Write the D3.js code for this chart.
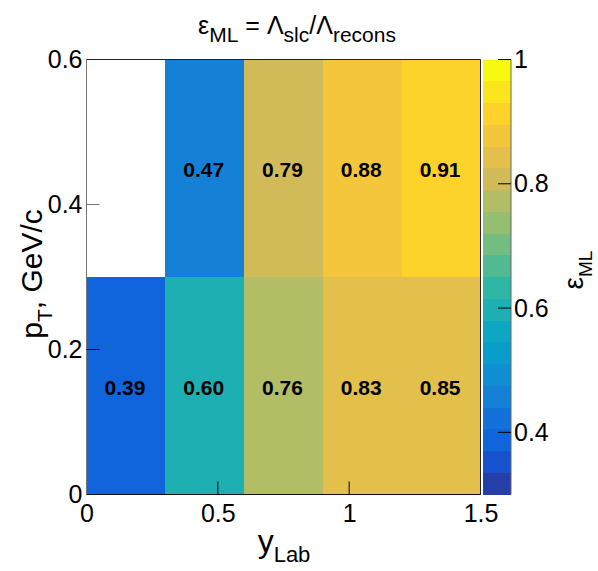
<!DOCTYPE html>
<html>
<head>
<meta charset="utf-8">
<script src="https://cdn.jsdelivr.net/npm/d3@7"></script>
<style>
  html, body { margin: 0; padding: 0; background: #fff; }
  svg { display: block; font-family: "Liberation Sans", Arial, Helvetica, sans-serif; }
</style>
</head>
<body>
<svg id="chart" width="598" height="571"></svg>
<script>
// Bin edges of the 2D efficiency histogram
const yLabEdges = [0, 0.3, 0.6, 0.9, 1.2, 1.5];
const ptEdges = [0, 0.3, 0.6];

// Efficiency per bin: low-pT row (0-0.3) and high-pT row (0.3-0.6); null = empty bin
const effLowPt = [0.39, 0.60, 0.76, 0.83, 0.85];
const effHighPt = [null, 0.47, 0.79, 0.88, 0.91];

// Axis ticks
const xTicks = [0, 0.5, 1, 1.5];
const yTicks = [0, 0.2, 0.4, 0.6];
const zTicks = [0.4, 0.6, 0.8, 1];

// Colour range and number of contour levels
const zMin = 0.3, zMax = 1.0, nLevels = 20;

// Bird palette (stops, RGB) expanded to 255 colours
const birdStops = [0.0, 0.125, 0.25, 0.375, 0.5, 0.625, 0.75, 0.875, 1.0];
const birdR = [0.2082, 0.0592, 0.0780, 0.0232, 0.1802, 0.5301, 0.8186, 0.9956, 0.9764];
const birdG = [0.1664, 0.3599, 0.5041, 0.6419, 0.7178, 0.7492, 0.7328, 0.7862, 0.9832];
const birdB = [0.5293, 0.8684, 0.8385, 0.7914, 0.6425, 0.4662, 0.3499, 0.1968, 0.0539];

const nColors = 255;
const palette = [];
for (let g = 1; g < birdStops.length; g++) {
  const n = Math.floor(nColors * birdStops[g]) - Math.floor(nColors * birdStops[g - 1]);
  for (let c = 0; c < n; c++) {
    const r = birdR[g - 1] + c * (birdR[g] - birdR[g - 1]) / n;
    const gg = birdG[g - 1] + c * (birdG[g] - birdG[g - 1]) / n;
    const b = birdB[g - 1] + c * (birdB[g] - birdB[g - 1]) / n;
    palette.push(d3.rgb(Math.round(r * 255), Math.round(gg * 255), Math.round(b * 255)).formatHex());
  }
}
while (palette.length < nColors) palette.push(palette[palette.length - 1]);

function levelColor(level) {
  const idx = Math.min(nColors - 1, Math.floor((level + 0.99) * nColors / nLevels));
  return palette[idx];
}
function valueColor(v) {
  let level = Math.floor(0.01 + (v - zMin) * nLevels / (zMax - zMin));
  level = Math.max(0, Math.min(nLevels - 1, level));
  return levelColor(level);
}

// Layout
const plot = { left: 86.5, right: 480.5, top: 59.5, bottom: 494.5 };
const bar = { left: 483, right: 511 };
const tickLen = 13;

const svg = d3.select("#chart");

const x = d3.scaleLinear().domain([0, 1.5]).range([plot.left, plot.right]);
const y = d3.scaleLinear().domain([0, 0.6]).range([plot.bottom, plot.top]);
const z = d3.scaleLinear().domain([zMin, zMax]).range([plot.bottom, plot.top]);

// Cells
const cells = [];
[effLowPt, effHighPt].forEach((row, j) => {
  row.forEach((v, i) => {
    if (v !== null) cells.push({ x0: yLabEdges[i], x1: yLabEdges[i + 1], y0: ptEdges[j], y1: ptEdges[j + 1], v });
  });
});

svg.append("g").selectAll("rect").data(cells).join("rect")
  .attr("x", d => x(d.x0))
  .attr("y", d => y(d.y1))
  .attr("width", d => x(d.x1) - x(d.x0))
  .attr("height", d => y(d.y0) - y(d.y1))
  .attr("fill", d => valueColor(d.v))
  .attr("shape-rendering", "crispEdges");

// Value labels
svg.append("g").selectAll("text").data(cells).join("text")
  .attr("x", d => x((d.x0 + d.x1) / 2) - 1)
  .attr("y", d => y((d.y0 + d.y1) / 2) + 1.5)
  .attr("dy", "0.36em")
  .attr("text-anchor", "middle")
  .attr("font-weight", "bold")
  .attr("font-size", 21)
  .attr("fill", "#000")
  .text(d => d.v.toFixed(2));

// Frame
const frame = svg.append("g").attr("fill", "none").attr("stroke-width", 1);
frame.append("line").attr("x1", plot.left).attr("x2", plot.right).attr("y1", plot.top).attr("y2", plot.top).attr("stroke", "#222");
frame.append("line").attr("x1", plot.right).attr("x2", plot.right).attr("y1", plot.top).attr("y2", plot.bottom).attr("stroke", "#222");
frame.append("line").attr("x1", plot.left).attr("x2", plot.left).attr("y1", plot.top).attr("y2", plot.bottom).attr("stroke", "#777");
frame.append("line").attr("x1", plot.left).attr("x2", plot.right).attr("y1", plot.bottom).attr("y2", plot.bottom).attr("stroke", "#111");

// X axis ticks and labels
const xAxis = d3.axisBottom(x).tickValues(xTicks).tickSize(0).tickFormat(d3.format("~g"));
const gx = svg.append("g").attr("transform", `translate(0,${plot.bottom})`).call(xAxis);
gx.select(".domain").remove();
gx.selectAll("text").attr("font-size", 25).attr("fill", "#000").attr("dy", null).attr("y", 27).attr("font-family", "Liberation Sans, Arial, sans-serif");
svg.append("g").selectAll("line").data(xTicks.filter(t => t > 0 && t < 1.5)).join("line")
  .attr("x1", d => x(d)).attr("x2", d => x(d))
  .attr("y1", plot.bottom).attr("y2", plot.bottom - tickLen)
  .attr("stroke", "#000");

// Y axis ticks and labels
const yAxis = d3.axisLeft(y).tickValues(yTicks).tickSize(0).tickPadding(4).tickFormat(d3.format("~g"));
const gy = svg.append("g").attr("transform", `translate(${plot.left},0)`).call(yAxis);
gy.select(".domain").remove();
gy.selectAll("text").attr("font-size", 25).attr("fill", "#000").attr("font-family", "Liberation Sans, Arial, sans-serif");
svg.append("g").selectAll("line").data(yTicks.filter(t => t > 0 && t < 0.6)).join("line")
  .attr("x1", plot.left).attr("x2", plot.left + tickLen)
  .attr("y1", d => y(d)).attr("y2", d => y(d))
  .attr("stroke", d => d >= 0.3 ? "#777" : "#000");

// Colour bar
const levels = d3.range(nLevels);
const dz = (zMax - zMin) / nLevels;
svg.append("g").selectAll("rect").data(levels).join("rect")
  .attr("x", bar.left)
  .attr("width", bar.right - bar.left)
  .attr("y", i => z(zMin + (i + 1) * dz))
  .attr("height", i => z(zMin + i * dz) - z(zMin + (i + 1) * dz))
  .attr("fill", i => levelColor(i))
  .attr("shape-rendering", "crispEdges");
svg.append("line").attr("x1", bar.right).attr("x2", bar.right).attr("y1", plot.top).attr("y2", plot.bottom)
  .attr("stroke", "#666");

const zAxis = d3.axisRight(z).tickValues(zTicks).tickSize(0).tickPadding(3).tickFormat(d3.format("~g"));
const gz = svg.append("g").attr("transform", `translate(${bar.right},0)`).call(zAxis);
gz.select(".domain").remove();
gz.selectAll("text").attr("font-size", 25).attr("fill", "#000").attr("font-family", "Liberation Sans, Arial, sans-serif");
svg.append("g").selectAll("line").data(zTicks).join("line")
  .attr("x1", bar.right).attr("x2", bar.right - tickLen)
  .attr("y1", d => z(d)).attr("y2", d => z(d))
  .attr("stroke", "#000");

// Title
const title = svg.append("text")
  .attr("x", 297).attr("y", 34)
  .attr("text-anchor", "middle")
  .attr("font-size", 25)
  .attr("fill", "#000");
title.append("tspan").text("ε");
title.append("tspan").attr("font-size", 21).attr("dy", 8).text("ML");
title.append("tspan").attr("dy", -8).text(" = Λ");
title.append("tspan").attr("font-size", 21).attr("dy", 8).text("slc");
title.append("tspan").attr("dy", -8).text("/Λ");
title.append("tspan").attr("font-size", 21).attr("dy", 8).text("recons");

// X axis title
const xTitle = svg.append("text")
  .attr("x", 284).attr("y", 552)
  .attr("text-anchor", "middle")
  .attr("font-size", 32)
  .attr("fill", "#000");
xTitle.append("tspan").text("y");
xTitle.append("tspan").attr("font-size", 22).attr("dy", 10).text("Lab");

// Y axis title
const yTitle = svg.append("text")
  .attr("transform", "translate(42,274) rotate(-90)")
  .attr("text-anchor", "middle")
  .attr("font-size", 30)
  .attr("fill", "#000");
yTitle.append("tspan").text("p");
yTitle.append("tspan").attr("font-size", 21).attr("dy", 10).text("T");
yTitle.append("tspan").attr("dy", -10).text(", GeV/c");

// Colour bar title
const zTitle = svg.append("text")
  .attr("transform", "translate(583,270) rotate(-90)")
  .attr("text-anchor", "middle")
  .attr("font-size", 28)
  .attr("fill", "#000");
zTitle.append("tspan").text("ε");
zTitle.append("tspan").attr("font-size", 19).attr("dy", 9).text("ML");
</script>
</body>
</html>
